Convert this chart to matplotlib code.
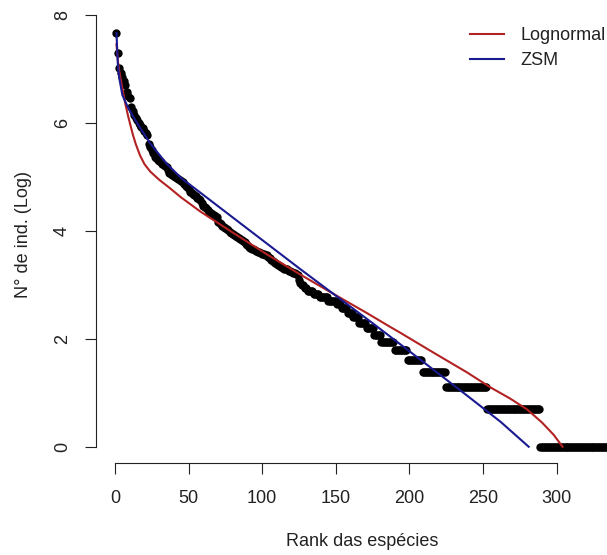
import numpy as np
import matplotlib
import matplotlib.pyplot as plt

matplotlib.use('agg')

# log abundance of the most common species (rank 1..124)
top_log = [
    7.67, 7.30, 7.02, 6.93, 6.86, 6.78, 6.70, 6.58, 6.50, 6.47,
    6.30, 6.22, 6.15, 6.10, 6.05, 6.00, 5.96, 5.93, 5.90, 5.86,
    5.82, 5.78, 5.62, 5.56, 5.50, 5.44, 5.38, 5.35, 5.32, 5.30,
    5.28, 5.25, 5.23, 5.21, 5.19, 5.13, 5.08, 5.06, 5.04, 5.02,
    5.00, 4.98, 4.96, 4.94, 4.92, 4.90, 4.87, 4.84, 4.82, 4.78,
    4.72, 4.70, 4.68, 4.66, 4.64, 4.62, 4.60, 4.57, 4.52, 4.47,
    4.44, 4.42, 4.39, 4.36, 4.33, 4.31, 4.29, 4.27, 4.26, 4.17,
    4.14, 4.12, 4.10, 4.08, 4.05, 4.03, 4.01, 3.98, 3.96, 3.94,
    3.93, 3.91, 3.89, 3.87, 3.85, 3.83, 3.81, 3.79, 3.76, 3.74,
    3.71, 3.68, 3.67, 3.66, 3.64, 3.63, 3.61, 3.61, 3.60, 3.58,
    3.58, 3.56, 3.55, 3.52, 3.50, 3.47, 3.45, 3.43, 3.40, 3.38,
    3.37, 3.35, 3.33, 3.31, 3.30, 3.30, 3.29, 3.26, 3.26, 3.24,
    3.22, 3.22, 3.21, 3.18,
]

# rarer species: number of individuals and how many species share it
tail_counts = [22, 21, 20, 19, 18, 17, 16, 15, 14, 13, 12, 11,
               10, 9, 8, 7, 6, 5, 4, 3, 2, 1]
tail_nspp = [1, 1, 2, 2, 4, 4, 6, 6, 3, 4, 4, 4,
             5, 5, 5, 9, 9, 10, 16, 28, 36, 60]

# fitted models (rank, log abundance)
lognormal_rank = [1, 2, 3, 5, 7, 9, 12, 14, 17, 20, 24, 30, 37, 45, 58, 80,
                  103, 126, 148, 171, 187, 194, 216, 239, 255, 268, 280,
                  290, 298, 304]
lognormal_val = [7.46, 7.15, 6.95, 6.65, 6.36, 6.12, 5.80, 5.62, 5.40, 5.24,
                 5.10, 4.95, 4.80, 4.62, 4.36, 3.97, 3.57, 3.19, 2.84, 2.48,
                 2.22, 2.11, 1.75, 1.38, 1.10, 0.90, 0.69, 0.45, 0.22, 0.0]

zsm_rank = [1, 2, 3, 5, 9, 15, 24, 35, 45, 58, 80, 103, 126, 150,
            175, 200, 220, 240, 262, 281]
zsm_val = [7.67, 7.05, 6.82, 6.52, 6.28, 6.00, 5.62, 5.25, 4.98, 4.71,
           4.25, 3.77, 3.29, 2.80, 2.29, 1.77, 1.35, 0.93, 0.46, 0.0]

log_ab = np.concatenate([top_log, np.log(np.repeat(tail_counts, tail_nspp))])
rank = np.arange(1, len(log_ab) + 1)

plt.rcParams['font.family'] = ['Liberation Sans', 'DejaVu Sans']
txt = '#222222'

fig = plt.figure(figsize=(6.07, 5.55), dpi=100)
# plot region placed like the R device region (it runs past the right edge)
ax = fig.add_axes([96 / 607, (555 - 463.3) / 555, 551.8 / 607, 448.1 / 555])

ax.plot(rank, log_ab, 'o', color='black', markersize=6, markeredgewidth=0)
ax.plot(lognormal_rank, lognormal_val, color='#B22222', lw=1.5, label='Lognormal')
ax.plot(zsm_rank, zsm_val, color='#1A1A90', lw=1.5, label='ZSM')

ax.set_xlim(-12.9, 361.9)
ax.set_ylim(-0.307, 7.99)
ax.set_xticks([0, 50, 100, 150, 200, 250, 300])
ax.set_yticks([0, 2, 4, 6, 8])

for side in ['top', 'right']:
    ax.spines[side].set_visible(False)
ax.spines['bottom'].set_bounds(0, 300)
ax.spines['left'].set_bounds(0, 8)
for side in ['bottom', 'left']:
    ax.spines[side].set_linewidth(0.8)
    ax.spines[side].set_color(txt)

ax.tick_params(axis='both', length=8, width=0.8, color=txt,
               labelsize=13, labelcolor=txt)
ax.tick_params(axis='x', pad=11)
ax.tick_params(axis='y', pad=10, labelrotation=90)
for lab in ax.get_yticklabels():
    lab.set_verticalalignment('center')

fig.text(362 / 607, 1 - 541 / 555, 'Rank das espécies', ha='center', va='center',
         fontsize=13, color=txt)
fig.text(24 / 607, 1 - 235 / 555, 'N° de ind. (Log)', ha='center', va='center',
         rotation=90, fontsize=13, color=txt)

ax.legend(loc='upper left', bbox_to_anchor=(470 / 607, 1 - 27 / 555),
          bbox_transform=fig.transFigure, frameon=False, fontsize=13,
          handlelength=1.9, handletextpad=0.9, labelspacing=0.45,
          borderpad=0, borderaxespad=0, labelcolor=txt)

fig.savefig('out.png', dpi=100)
